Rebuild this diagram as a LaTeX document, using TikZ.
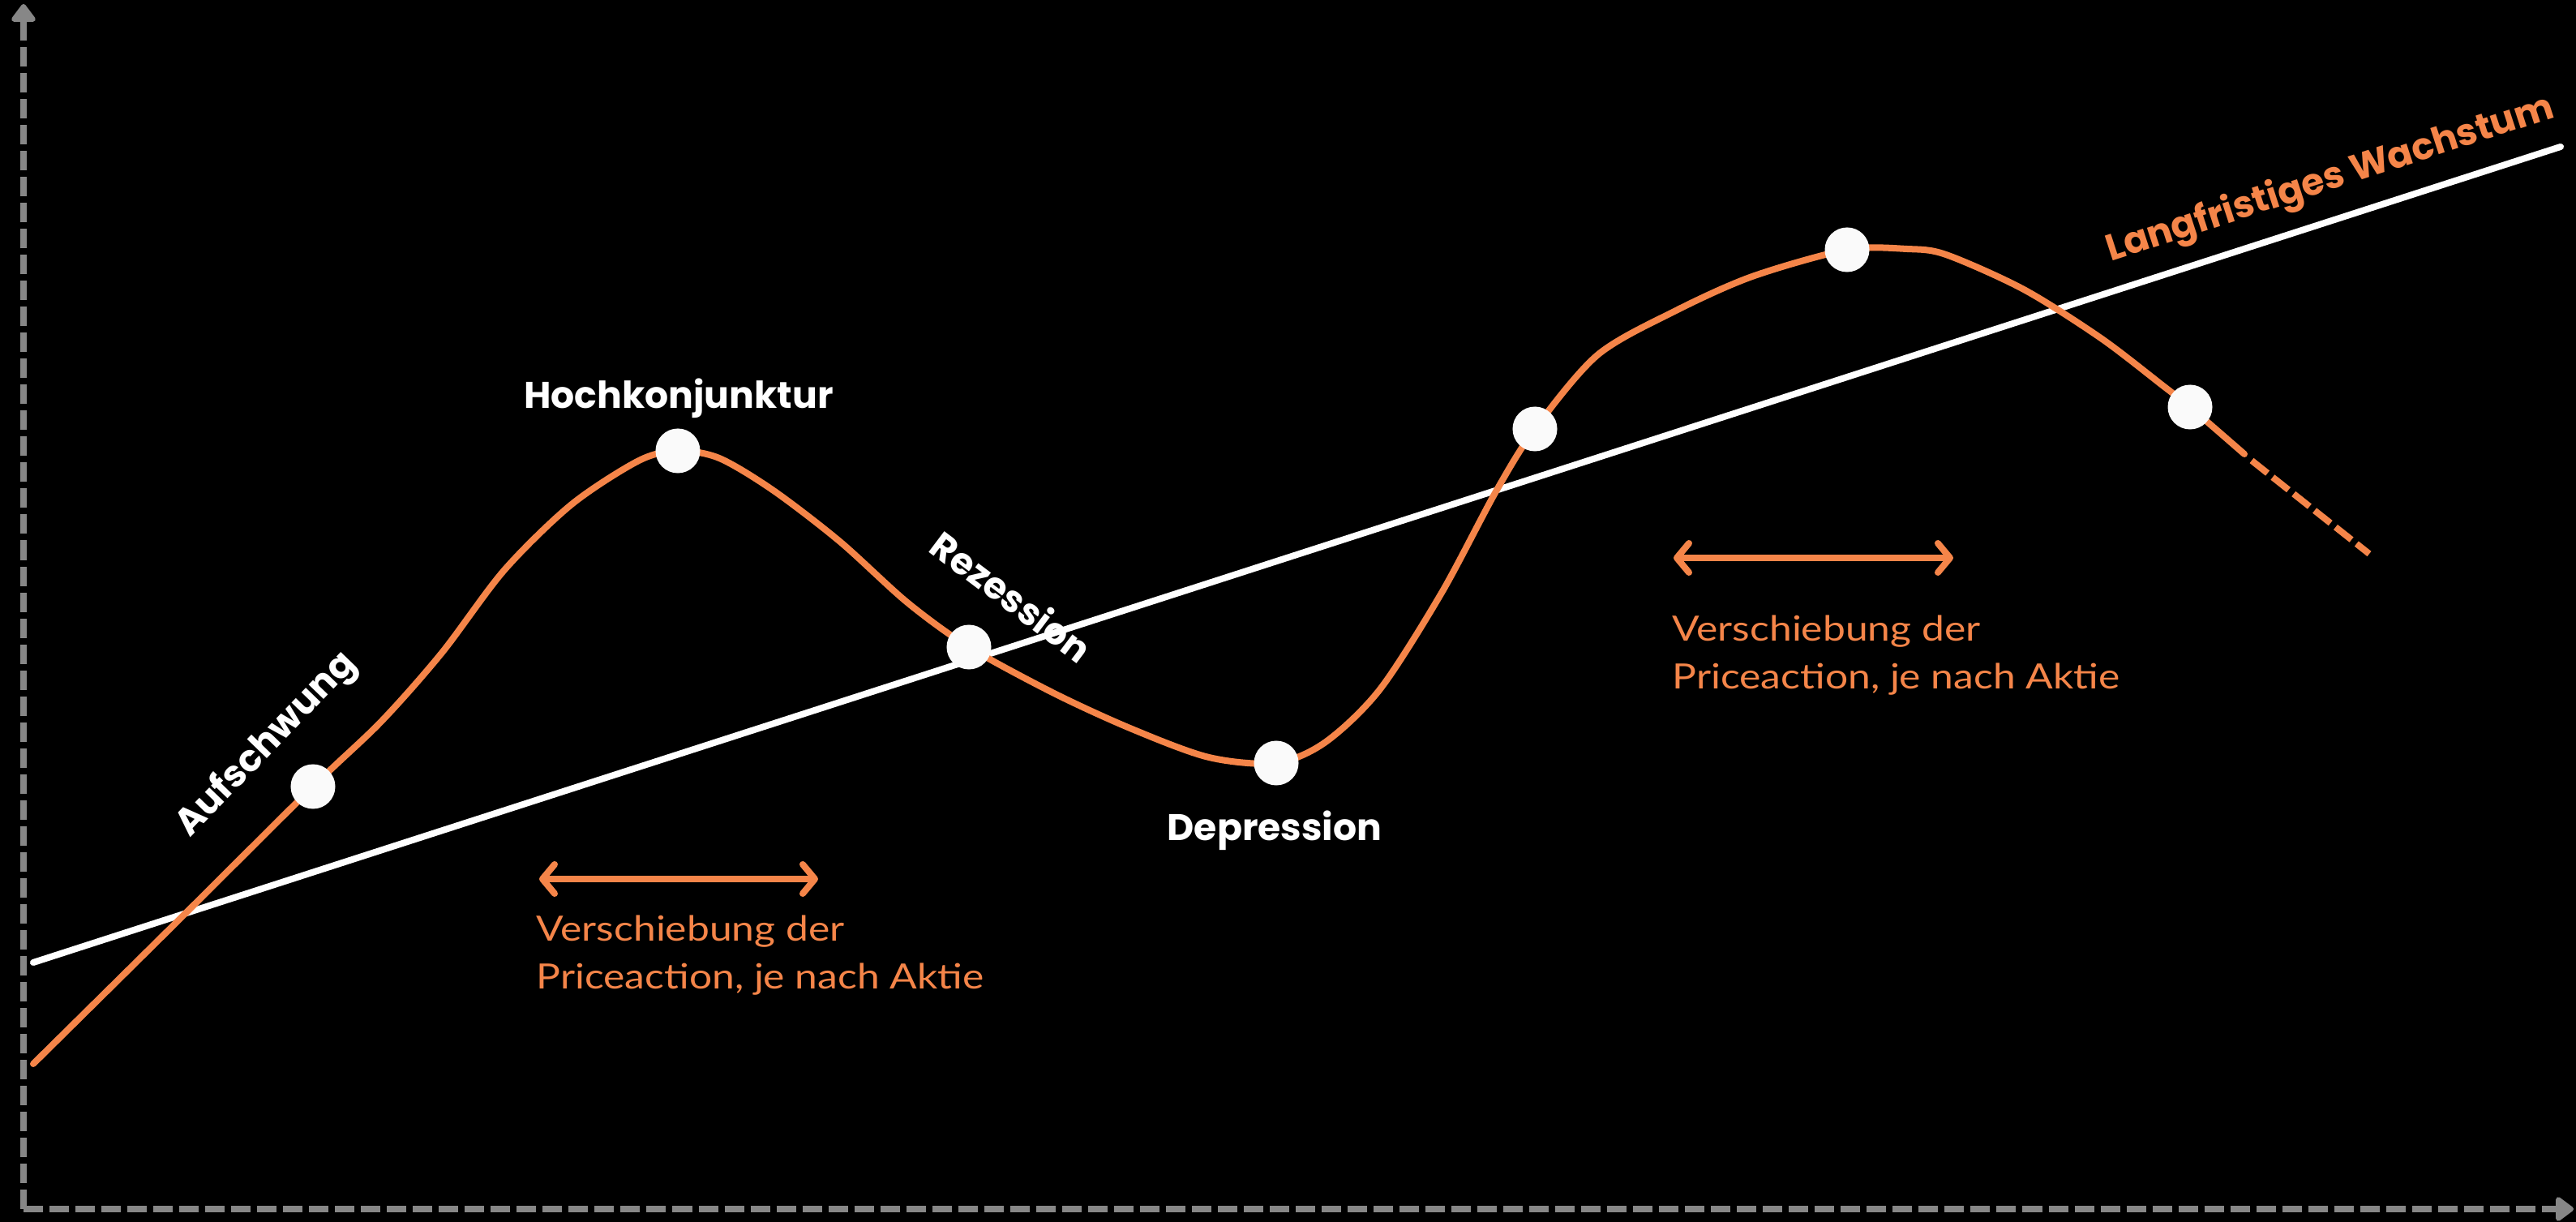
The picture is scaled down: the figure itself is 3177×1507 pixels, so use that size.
\documentclass[tikz,border=0pt]{standalone}
\usepackage{fontspec}
\setmainfont{Poppins}
\newfontfamily\thinfont{Lato}[FakeStretch=1.16]
\usetikzlibrary{arrows.meta}
\definecolor{org}{HTML}{F58549}
\definecolor{axgray}{HTML}{878787}
\definecolor{dotw}{HTML}{FAFAFA}
\begin{document}
\begin{tikzpicture}[x=0.01cm,y=-0.01cm,
  axisline/.style={draw=axgray, line width=0.08cm, dash pattern=on 0.24cm off 0.08cm, -{Triangle[length=0.24cm,width=0.34cm,round]}},
  trend/.style={draw=white,line width=0.08cm,line cap=round},
  wave/.style={draw=org,line width=0.08cm,line cap=round,line join=round},
  dot/.style={circle,fill=dotw,minimum size=0.55cm,inner sep=0pt},
  lbl/.style={text=white,font=\fontsize{13pt}{15pt}\selectfont\bfseries,inner sep=0pt},
  spanarrow/.style={draw=org,line width=0.08cm,line cap=round,{Straight Barb[length=0.15cm,width=0.36cm,round]}-{Straight Barb[length=0.15cm,width=0.36cm,round]}},
  note/.style={text=org,font=\thinfont\fontsize{12.2pt}{17pt}\selectfont,align=left,inner sep=0pt}
]
\fill[black] (0,0) rectangle (3177,1507);
\useasboundingbox (0,0) rectangle (3177,1507);

% axes
\coordinate (o) at (29,1491);
\coordinate (ytop) at (29,5);
\coordinate (xend) at (3174,1491);
\draw[axisline] (o) -- (ytop);
\draw[axisline] (o) -- (xend);

% long-term trend
\coordinate (t0) at (41,1187);
\coordinate (t1) at (3158,181);
\draw[trend] (t0) -- (t1);

% business cycle
\coordinate (c0) at (41,1312);
\coordinate (p1) at (386,970);
\coordinate (p2) at (836,556);
\coordinate (p3) at (1195,798);
\coordinate (p4) at (1574,941);
\coordinate (p5) at (1893,529);
\coordinate (p6) at (2278,308);
\coordinate (p7) at (2701,502);
\coordinate (c1) at (2768,560);
\draw[wave] plot[smooth,tension=0.5] coordinates {
  (c0) (215,1140) (p1) (470,890) (545,805) (622,703) (705,622) (788,568) (p2)
  (887,565) (954,605) (1036,668) (1119,743) (p3) (1300,855) (1396,899)
  (1491,934) (p4) (1635,915) (1702,850) (1778,731) (1845,606) (p5)
  (1970,438) (2065,384) (2161,341) (p6) (2352,307) (2400,314) (2496,357)
  (2591,417) (2668,476) (p7) (c1)};
\coordinate (c2) at (2777,568);
\coordinate (c3) at (2922,683);
\draw[wave,line cap=butt,dash pattern=on 0.25cm off 0.08cm] (c2) -- (c3);

% points
\node[dot] (d1) at (p1) {};
\node[dot] (d2) at (p2) {};
\node[dot] (d3) at (p3) {};
\node[dot] (d4) at (p4) {};
\node[dot] (d5) at (p5) {};
\node[dot] (d6) at (p6) {};
\node[dot] (d7) at (p7) {};

% labels
\node[lbl,anchor=base] (hk) at (837,504) {Hochkonjunktur};
\node[lbl,anchor=base] (dp) at (1572,1037) {Depression};
\node[lbl,rotate=46] (au) at (329,919) {Aufschwung};
\node[lbl,rotate=-37] (rz) at (1248,735) {Rezession};
\node[lbl,text=org,rotate=18] (lw) at (2874,222) {Langfristiges Wachstum};

% shift arrows and notes
\coordinate (a1l) at (665,1084);
\coordinate (a1r) at (1009,1084);
\draw[spanarrow] (a1l) -- (a1r);
\node[note,anchor=base west] (n1) at (661,1220) {Verschiebung der\\Priceaction, je nach Aktie};

\coordinate (a2l) at (2064,688);
\coordinate (a2r) at (2409,688);
\draw[spanarrow] (a2l) -- (a2r);
\node[note,anchor=base west] (n2) at (2062,850) {Verschiebung der\\Priceaction, je nach Aktie};
\end{tikzpicture}
\end{document}
